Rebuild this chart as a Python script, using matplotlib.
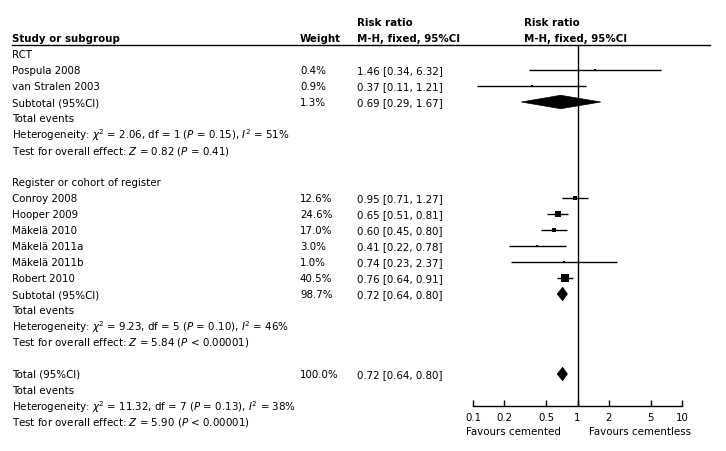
import matplotlib

matplotlib.use("Agg")
import matplotlib.pyplot as plt
from matplotlib.patches import Polygon
import numpy as np

# ---- data ----
study_labels = ["Pospula 2008", "van Stralen 2003",
                "Conroy 2008", "Hooper 2009", "Mäkelä 2010", "Mäkelä 2011a",
                "Mäkelä 2011b", "Robert 2010"]
study_rows = [1, 2, 9, 10, 11, 12, 13, 14]
study_weight = [0.4, 0.9, 12.6, 24.6, 17.0, 3.0, 1.0, 40.5]
study_rr = [1.46, 0.37, 0.95, 0.65, 0.60, 0.41, 0.74, 0.76]
study_lo = [0.34, 0.11, 0.71, 0.51, 0.45, 0.22, 0.23, 0.64]
study_hi = [6.32, 1.21, 1.27, 0.81, 0.80, 0.78, 2.37, 0.91]

pooled_labels = ["Subtotal (95%CI)", "Subtotal (95%CI)", "Total (95%CI)"]
pooled_rows = [3, 15, 20]
pooled_weight = [1.3, 98.7, 100.0]
pooled_rr = [0.69, 0.72, 0.72]
pooled_lo = [0.29, 0.64, 0.64]
pooled_hi = [1.67, 0.80, 0.80]

group_labels = ["RCT", "Register or cohort of register"]
group_rows = [0, 8]

stat_rows = [4, 5, 6, 16, 17, 18, 21, 22, 23]
stat_text = [
    "Total events",
    r"Heterogeneity: $\chi^2$ = 2.06, df = 1 ($P$ = 0.15), $I^2$ = 51%",
    r"Test for overall effect: $Z$ = 0.82 ($P$ = 0.41)",
    "Total events",
    r"Heterogeneity: $\chi^2$ = 9.23, df = 5 ($P$ = 0.10), $I^2$ = 46%",
    r"Test for overall effect: $Z$ = 5.84 ($P$ < 0.00001)",
    "Total events",
    r"Heterogeneity: $\chi^2$ = 11.32, df = 7 ($P$ = 0.13), $I^2$ = 38%",
    r"Test for overall effect: $Z$ = 5.90 ($P$ < 0.00001)",
]

tick_vals = [0.1, 0.2, 0.5, 1, 2, 5, 10]
tick_labels = ["0.1", "0.2", "0.5", "1", "2", "5", "10"]

# ---- layout (pixels of a 726x452 canvas, rows 16 px apart) ----
W, H = 726, 452
ROW0, ROWH = 55, 16
row_of = lambda py: (py - ROW0) / ROWH

plt.rcParams["font.family"] = ["DejaVu Sans"]
plt.rcParams["mathtext.fontset"] = "dejavusans"
FS = 7.4

fig = plt.figure(figsize=(W / 100, H / 100), dpi=100)
tax = fig.add_axes([0, 0, 1, 1])
tax.set_xlim(0, W)
tax.set_ylim(row_of(H), row_of(0))
tax.axis("off")

X_NAME, X_W, X_RR, X_RR2 = 12, 300, 357, 524

# header
tax.text(X_RR, row_of(23), "Risk ratio", fontsize=FS, fontweight="bold", va="center")
tax.text(X_RR2, row_of(23), "Risk ratio", fontsize=FS, fontweight="bold", va="center")
tax.text(X_NAME, row_of(39), "Study or subgroup", fontsize=FS, fontweight="bold", va="center")
tax.text(X_W, row_of(39), "Weight", fontsize=FS, fontweight="bold", va="center")
tax.text(X_RR, row_of(39), "M-H, fixed, 95%CI", fontsize=FS, fontweight="bold", va="center")
tax.text(X_RR2, row_of(39), "M-H, fixed, 95%CI", fontsize=FS, fontweight="bold", va="center")
tax.plot([12, 710], [row_of(45.5)] * 2, color="black", lw=1)

for lab, r in zip(group_labels, group_rows):
    tax.text(X_NAME, r, lab, fontsize=FS, va="center")
for lab, r, w, e, lo, hi in zip(study_labels, study_rows, study_weight,
                                study_rr, study_lo, study_hi):
    tax.text(X_NAME, r, lab, fontsize=FS, va="center")
    tax.text(X_W, r, f"{w:.1f}%", fontsize=FS, va="center")
    tax.text(X_RR, r, f"{e:.2f} [{lo:.2f}, {hi:.2f}]", fontsize=FS, va="center")
for lab, r, w, e, lo, hi in zip(pooled_labels, pooled_rows, pooled_weight,
                                pooled_rr, pooled_lo, pooled_hi):
    tax.text(X_NAME, r, lab, fontsize=FS, va="center")
    tax.text(X_W, r, f"{w:.1f}%", fontsize=FS, va="center")
    tax.text(X_RR, r, f"{e:.2f} [{lo:.2f}, {hi:.2f}]", fontsize=FS, va="center")
for r, s in zip(stat_rows, stat_text):
    tax.text(X_NAME, r, s, fontsize=FS, va="center")

# ---- forest panel ----
AX_L, AX_R, AX_T, AX_B = 473, 682, 45.5, 407
fax = fig.add_axes([AX_L / W, 1 - AX_B / H, (AX_R - AX_L) / W, (AX_B - AX_T) / H])
fax.set_xscale("log")
fax.set_xlim(0.1, 10)
fax.set_ylim(row_of(AX_B), row_of(AX_T))
fax.patch.set_alpha(0)
for side in ("top", "right", "left"):
    fax.spines[side].set_visible(False)
fax.spines["bottom"].set_linewidth(1)
fax.set_yticks([])
fax.minorticks_off()
fax.set_xticks(tick_vals)
fax.set_xticklabels(tick_labels, fontsize=FS)
fax.tick_params(axis="x", direction="in", length=4, width=1, pad=4)
fax.axvline(1, color="black", lw=1)

for r, w, e, lo, hi in zip(study_rows, study_weight, study_rr, study_lo, study_hi):
    fax.plot([lo, hi], [r, r], color="black", lw=1, solid_capstyle="butt")
    fax.plot(e, r, marker="s", color="black", mec="black", mew=0,
             markersize=max(1.6, 0.85 * np.sqrt(w)))
for r, e, lo, hi in zip(pooled_rows, pooled_rr, pooled_lo, pooled_hi):
    hh = 0.42
    fax.add_patch(Polygon([(lo, r), (e, r - hh), (hi, r), (e, r + hh)],
                          closed=True, facecolor="black", edgecolor="black", lw=0.5))

fig.text(513 / W, 1 - 432 / H, "Favours cemented", fontsize=FS, ha="center", va="center")
fig.text(640 / W, 1 - 432 / H, "Favours cementless", fontsize=FS, ha="center", va="center")

fig.savefig("out.png", dpi=100)
